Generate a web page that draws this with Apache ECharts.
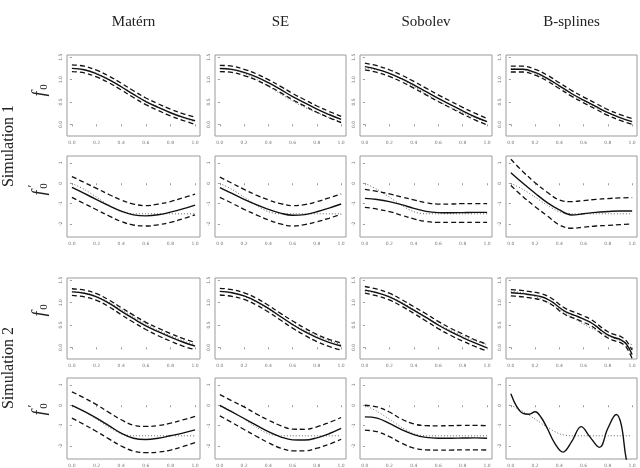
<!DOCTYPE html>
<html>
<head>
<meta charset="utf-8">
<script src="https://cdn.jsdelivr.net/npm/echarts@6/dist/echarts.min.js"></script>
<style>
html, body { margin: 0; padding: 0; background: #fff; }
#chart { width: 640px; height: 468px; }
</style>
</head>
<body>
<div id="chart"></div>
<script>
// grid of x values the curves are read at
var xs = [0, 0.1, 0.2, 0.3, 0.4, 0.5, 0.6, 0.7, 0.8, 0.9, 1];
var xsFine = [0, 0.05, 0.1, 0.15, 0.2, 0.25, 0.3, 0.35, 0.4, 0.45, 0.5,
              0.55, 0.6, 0.65, 0.7, 0.75, 0.8, 0.85, 0.9, 0.95, 1];
// x values for the wiggly B-spline derivative (at its turning points)
var xsWiggle = [0, 0.05, 0.1, 0.15, 0.2, 0.25, 0.3, 0.36, 0.43, 0.5, 0.58,
                0.65, 0.73, 0.8, 0.87, 0.91, 0.95, 1];

var methods = ['Matérn', 'SE', 'Sobolev', 'B-splines'];
var simulations = ['Simulation 1', 'Simulation 2'];
var xTicks = [0, 0.2, 0.4, 0.6, 0.8, 1];
var fTicks = [0, 0.5, 1, 1.5];
var dTicks = [-2, -1, 0, 1];

// true function and derivative (dotted)
var trueF = [1.25, 1.22, 1.14, 1.01, 0.85, 0.68, 0.52, 0.38, 0.26, 0.15, 0.06];
var trueD = [0, -0.3, -0.68, -1.08, -1.4, -1.5, -1.5, -1.5, -1.5, -1.5, -1.5];

// each panel: [estimate, upper band, lower band]
var maternF1 = [
  [1.25, 1.22, 1.13, 1.0, 0.84, 0.67, 0.51, 0.38, 0.26, 0.16, 0.08],
  [1.33, 1.30, 1.21, 1.08, 0.92, 0.75, 0.59, 0.46, 0.34, 0.24, 0.16],
  [1.18, 1.15, 1.06, 0.93, 0.77, 0.60, 0.44, 0.31, 0.19, 0.09, 0.0]];
var seF1 = [
  [1.25, 1.23, 1.16, 1.06, 0.93, 0.78, 0.62, 0.48, 0.34, 0.22, 0.11],
  [1.32, 1.30, 1.23, 1.13, 1.0, 0.85, 0.69, 0.55, 0.41, 0.29, 0.18],
  [1.18, 1.16, 1.09, 0.99, 0.86, 0.71, 0.55, 0.41, 0.27, 0.15, 0.04]];
var sobolevF1 = [
  [1.29, 1.23, 1.14, 1.02, 0.88, 0.73, 0.58, 0.44, 0.30, 0.17, 0.06],
  [1.37, 1.31, 1.22, 1.10, 0.96, 0.81, 0.66, 0.52, 0.38, 0.25, 0.13],
  [1.22, 1.16, 1.07, 0.95, 0.81, 0.66, 0.51, 0.37, 0.23, 0.10, -0.01]];
var bsplineF1 = [
  [1.23, 1.23, 1.16, 1.03, 0.86, 0.69, 0.54, 0.40, 0.26, 0.15, 0.06],
  [1.30, 1.30, 1.23, 1.10, 0.93, 0.76, 0.61, 0.47, 0.33, 0.22, 0.13],
  [1.17, 1.17, 1.10, 0.97, 0.80, 0.63, 0.48, 0.34, 0.20, 0.09, 0.0]];

var maternD1 = [
  [-0.2, -0.5, -0.8, -1.1, -1.37, -1.55, -1.6, -1.55, -1.42, -1.26, -1.07],
  [0.33, 0.04, -0.25, -0.55, -0.82, -1.02, -1.1, -1.02, -0.9, -0.72, -0.53],
  [-0.69, -1.0, -1.3, -1.6, -1.88, -2.05, -2.1, -2.04, -1.92, -1.75, -1.55]];
var seD1 = [
  [-0.21, -0.5, -0.79, -1.05, -1.28, -1.47, -1.57, -1.54, -1.4, -1.22, -1.02],
  [0.3, 0.0, -0.3, -0.58, -0.82, -1.0, -1.1, -1.05, -0.9, -0.72, -0.52],
  [-0.69, -0.98, -1.28, -1.55, -1.8, -2.0, -2.1, -2.03, -1.89, -1.72, -1.52]];
var sobolevD1 = [
  [-0.74, -0.8, -0.9, -1.05, -1.23, -1.38, -1.44, -1.45, -1.44, -1.43, -1.43],
  [-0.3, -0.4, -0.52, -0.67, -0.82, -0.95, -1.02, -1.02, -1.0, -1.0, -1.0],
  [-1.18, -1.27, -1.39, -1.57, -1.75, -1.88, -1.92, -1.92, -1.92, -1.92, -1.92]];
var bsplineD1 = [
  [0.52, 0.0, -0.49, -0.95, -1.31, -1.56, -1.5, -1.43, -1.39, -1.36, -1.36],
  [1.18, 0.57, 0.03, -0.44, -0.82, -0.9, -0.85, -0.79, -0.75, -0.72, -0.7],
  [-0.11, -0.66, -1.15, -1.6, -2.05, -2.21, -2.16, -2.1, -2.07, -2.03, -2.0]];

var maternF2 = [
  [1.24, 1.21, 1.13, 0.99, 0.81, 0.64, 0.48, 0.35, 0.23, 0.12, 0.03],
  [1.31, 1.28, 1.20, 1.06, 0.89, 0.72, 0.56, 0.43, 0.31, 0.20, 0.11],
  [1.16, 1.13, 1.05, 0.91, 0.73, 0.56, 0.40, 0.26, 0.14, 0.03, -0.05]];
var seF2 = [
  [1.25, 1.22, 1.15, 1.03, 0.87, 0.69, 0.51, 0.35, 0.22, 0.11, 0.03],
  [1.32, 1.29, 1.22, 1.10, 0.94, 0.76, 0.59, 0.43, 0.29, 0.18, 0.10],
  [1.17, 1.14, 1.07, 0.95, 0.79, 0.61, 0.43, 0.27, 0.13, 0.02, -0.06]];
var sobolevF2 = [
  [1.28, 1.22, 1.13, 0.99, 0.83, 0.67, 0.50, 0.35, 0.22, 0.10, -0.01],
  [1.36, 1.30, 1.21, 1.07, 0.91, 0.75, 0.58, 0.43, 0.30, 0.17, 0.07],
  [1.21, 1.15, 1.06, 0.92, 0.76, 0.59, 0.42, 0.27, 0.14, 0.02, -0.08]];
var bsplineF2 = [
  [1.22, 1.21, 1.20, 1.18, 1.16, 1.13, 1.08, 1.00, 0.89, 0.80, 0.74,
   0.69, 0.63, 0.57, 0.48, 0.37, 0.28, 0.22, 0.18, 0.08, -0.16],
  [1.29, 1.28, 1.27, 1.25, 1.23, 1.20, 1.15, 1.07, 0.96, 0.87, 0.81,
   0.76, 0.70, 0.64, 0.55, 0.44, 0.35, 0.29, 0.25, 0.15, -0.06],
  [1.15, 1.14, 1.13, 1.11, 1.09, 1.06, 1.01, 0.93, 0.82, 0.73, 0.67,
   0.62, 0.56, 0.50, 0.41, 0.30, 0.21, 0.15, 0.11, 0.01, -0.25]];

var maternD2 = [
  [0, -0.3, -0.63, -1.0, -1.37, -1.62, -1.68, -1.62, -1.5, -1.37, -1.21],
  [0.66, 0.36, 0.03, -0.35, -0.71, -0.98, -1.04, -1.0, -0.88, -0.72, -0.55],
  [-0.63, -0.95, -1.29, -1.65, -2.0, -2.25, -2.33, -2.3, -2.2, -2.03, -1.83]];
var seD2 = [
  [0, -0.33, -0.65, -0.98, -1.3, -1.55, -1.7, -1.71, -1.6, -1.4, -1.14],
  [0.52, 0.22, -0.08, -0.42, -0.73, -1.0, -1.17, -1.18, -1.06, -0.85, -0.6],
  [-0.52, -0.85, -1.19, -1.52, -1.84, -2.1, -2.24, -2.24, -2.11, -1.92, -1.67]];
var sobolevD2 = [
  [-0.57, -0.63, -0.89, -1.2, -1.44, -1.58, -1.62, -1.62, -1.61, -1.6, -1.62],
  [0, -0.08, -0.33, -0.68, -0.92, -1.0, -1.01, -1.0, -0.99, -0.99, -1.0],
  [-1.22, -1.3, -1.54, -1.86, -2.1, -2.19, -2.2, -2.2, -2.19, -2.19, -2.2]];
// bands of this one fall outside the plotted range: estimate only
var bsplineD2 = [
  [0.57, -0.08, -0.4, -0.44, -0.32, -0.6, -1.13, -1.85, -2.3, -1.8, -1.05,
   -1.54, -2.07, -1.13, -0.45, -0.95, -2.6, -3.8]];

var rows = [
  { panels: [maternF1, seF1, sobolevF1, bsplineF1], truth: trueF, kind: 'f' },
  { panels: [maternD1, seD1, sobolevD1, bsplineD1], truth: trueD, kind: 'd' },
  { panels: [maternF2, seF2, sobolevF2, bsplineF2], truth: trueF, kind: 'f' },
  { panels: [maternD2, seD2, sobolevD2, bsplineD2], truth: trueD, kind: 'd' }
];

var colLeft = [67, 215, 360, 506];
var colWidth = [133, 131, 132, 131];
var rowTop = [55, 156, 278, 378];
var rowHeight = 81;

function pairs(x, y) {
  return y.map(function (v, i) { return [x[i], v]; });
}
function xFor(arr) {
  if (arr.length === xsFine.length) return xsFine;
  if (arr.length === xsWiggle.length) return xsWiggle;
  return xs;
}

var grids = [], xAxes = [], yAxes = [], series = [];
rows.forEach(function (row, r) {
  row.panels.forEach(function (panel, c) {
    var p = grids.length;
    grids.push({
      left: colLeft[c], top: rowTop[r], width: colWidth[c], height: rowHeight,
      show: true, borderColor: '#9a9a9a', borderWidth: 1, backgroundColor: 'transparent'
    });
    xAxes.push({
      type: 'value', gridIndex: p, min: -0.04, max: 1.04,
      axisLine: { show: false },
      axisTick: { show: true, customValues: xTicks, length: 2, lineStyle: { color: '#999' } },
      axisLabel: {
        customValues: xTicks, fontSize: 4.5, color: '#777', margin: 4,
        fontFamily: 'DejaVu Sans',
        formatter: function (v) { return v.toFixed(1); }
      },
      splitLine: { show: false }
    });
    var isF = row.kind === 'f';
    yAxes.push({
      type: 'value', gridIndex: p,
      min: isF ? -0.26 : -2.64, max: isF ? 1.55 : 1.34,
      axisLine: { show: false },
      axisTick: { show: true, customValues: isF ? fTicks : dTicks, length: 2, lineStyle: { color: '#999' } },
      axisLabel: {
        customValues: isF ? fTicks : dTicks, fontSize: 4.5, color: '#777', margin: 4,
        rotate: 90, fontFamily: 'DejaVu Sans',
        formatter: function (v) { return isF ? v.toFixed(1) : String(Math.round(v)); }
      },
      splitLine: { show: false }
    });
    var px = xFor(panel[0]);
    series.push({
      type: 'line', xAxisIndex: p, yAxisIndex: p, data: pairs(xs, row.truth),
      smooth: 0.3, showSymbol: false, silent: true, z: 1,
      lineStyle: { color: '#666', width: 1, type: [1, 2] }
    });
    for (var k = 1; k < panel.length; k++) {
      series.push({
        type: 'line', xAxisIndex: p, yAxisIndex: p, data: pairs(px, panel[k]),
        smooth: 0.4, showSymbol: false, silent: true, z: 2,
        lineStyle: { color: '#111', width: 1.3, type: [5, 3] }
      });
    }
    series.push({
      type: 'line', xAxisIndex: p, yAxisIndex: p, data: pairs(px, panel[0]),
      smooth: 0.4, showSymbol: false, silent: true, z: 3,
      lineStyle: { color: '#111', width: 1.4 }
    });
  });
});

var serif = '"Liberation Serif", "DejaVu Serif", serif';
var graphics = [];
methods.forEach(function (m, c) {
  graphics.push({
    type: 'text', x: colLeft[c] + colWidth[c] / 2, y: 22,
    style: { text: m, font: '15px ' + serif, fill: '#222', align: 'center', verticalAlign: 'middle' }
  });
});
var simY = [146, 368];
simulations.forEach(function (s, i) {
  graphics.push({
    type: 'text', x: 9, y: simY[i], rotation: Math.PI / 2,
    style: { text: s, font: '16px ' + serif, fill: '#222', align: 'center', verticalAlign: 'middle' }
  });
});
var fLabelY = [90, 189, 310, 409];
fLabelY.forEach(function (yy, r) {
  var kids = [
    { type: 'text', x: -4, y: 0, style: { text: 'f', font: 'italic 18px ' + serif, fill: '#222', align: 'center', verticalAlign: 'middle' } },
    { type: 'text', x: 3, y: 4, style: { text: '0', font: '11px ' + serif, fill: '#222', align: 'center', verticalAlign: 'middle' } }
  ];
  if (rows[r].kind === 'd') {
    kids.push({ type: 'text', x: 3, y: -7, style: { text: '′', font: '12px ' + serif, fill: '#222', align: 'center', verticalAlign: 'middle' } });
  }
  graphics.push({ type: 'group', x: 40, y: yy, rotation: Math.PI / 2, children: kids });
});

var myChart = echarts.init(document.getElementById('chart'), null, { renderer: 'canvas' });
myChart.setOption({
  animation: false,
  backgroundColor: '#fff',
  grid: grids,
  xAxis: xAxes,
  yAxis: yAxes,
  series: series,
  graphic: graphics
});
</script>
</body>
</html>
